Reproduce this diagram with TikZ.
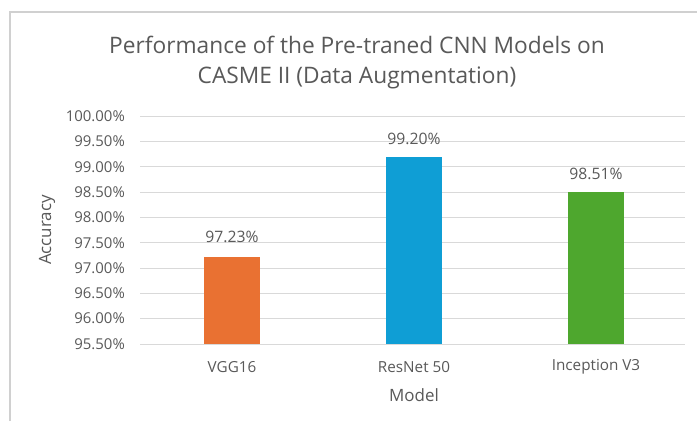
\documentclass[tikz,border=0pt]{standalone}
\usepackage{fontspec}
\setmainfont{Open Sans}
\definecolor{txt}{HTML}{595959}
\definecolor{grid}{HTML}{D9D9D9}
\definecolor{frame}{HTML}{D0D0D0}
\definecolor{barA}{HTML}{E97132}
\definecolor{barB}{HTML}{0F9ED5}
\definecolor{barC}{HTML}{4EA72E}
\tikzset{
  ticklbl/.style={anchor=east, text=txt, font=\fontsize{15}{17}\selectfont, inner sep=0pt},
  catlbl/.style={anchor=center, text=txt, font=\fontsize{15.3}{17}\selectfont, inner sep=0pt},
  vallbl/.style={anchor=center, text=txt, font=\fontsize{15.8}{18}\selectfont, inner sep=0pt},
  axlbl/.style={anchor=center, text=txt, font=\fontsize{17}{19}\selectfont, inner sep=0pt},
  ttl/.style={anchor=center, text=txt, font=\fontsize{22.8}{26}\selectfont, inner sep=0pt},
  gridln/.style={draw=grid, line width=1bp}
}
\begin{document}
\begin{tikzpicture}[x=1bp, y=-1bp]
\useasboundingbox (0,0) rectangle (697,421);
\fill[white] (0,0) rectangle (697,421);
% chart area frame (left and top edges)
\draw[frame, line width=1.2bp] (10,421) -- (10,12) -- (697,12);
% title
\node[ttl] (t1) at (357,45) {Performance of the Pre-traned CNN Models on};
\node[ttl] (t2) at (357,78) {CASME II (Data Augmentation)};
% horizontal grid and tick labels: 95.50% at y=344, step 25.33 per 0.5%
\foreach \i/\lab in {0/95.50\%,1/96.00\%,2/96.50\%,3/97.00\%,4/97.50\%,5/98.00\%,6/98.50\%,7/99.00\%,8/99.50\%,9/100.00\%}{
  \draw[gridln] (140,{344-25.33*\i}) -- (685,{344-25.33*\i});
  \node[ticklbl] (tick\i) at (125,{344-25.33*\i}) {\lab};
}
% bars
\fill[barA] (204,344) rectangle (260,256.5);
\fill[barB] (386,344) rectangle (442,157);
\fill[barC] (568,344) rectangle (624,192);
% value labels
\node[vallbl] (v1) at (232,237) {97.23\%};
\node[vallbl] (v2) at (414,139) {99.20\%};
\node[vallbl] (v3) at (596,174) {98.51\%};
% category labels
\node[catlbl] (c1) at (232,367) {VGG16};
\node[catlbl] (c2) at (414,367) {ResNet 50};
\node[catlbl] (c3) at (596,367) {Inception V3};
% axis titles
\node[axlbl] (xt) at (414,395) {Model};
\node[axlbl, rotate=90] (yt) at (47,230) {Accuracy};
\end{tikzpicture}
\end{document}
